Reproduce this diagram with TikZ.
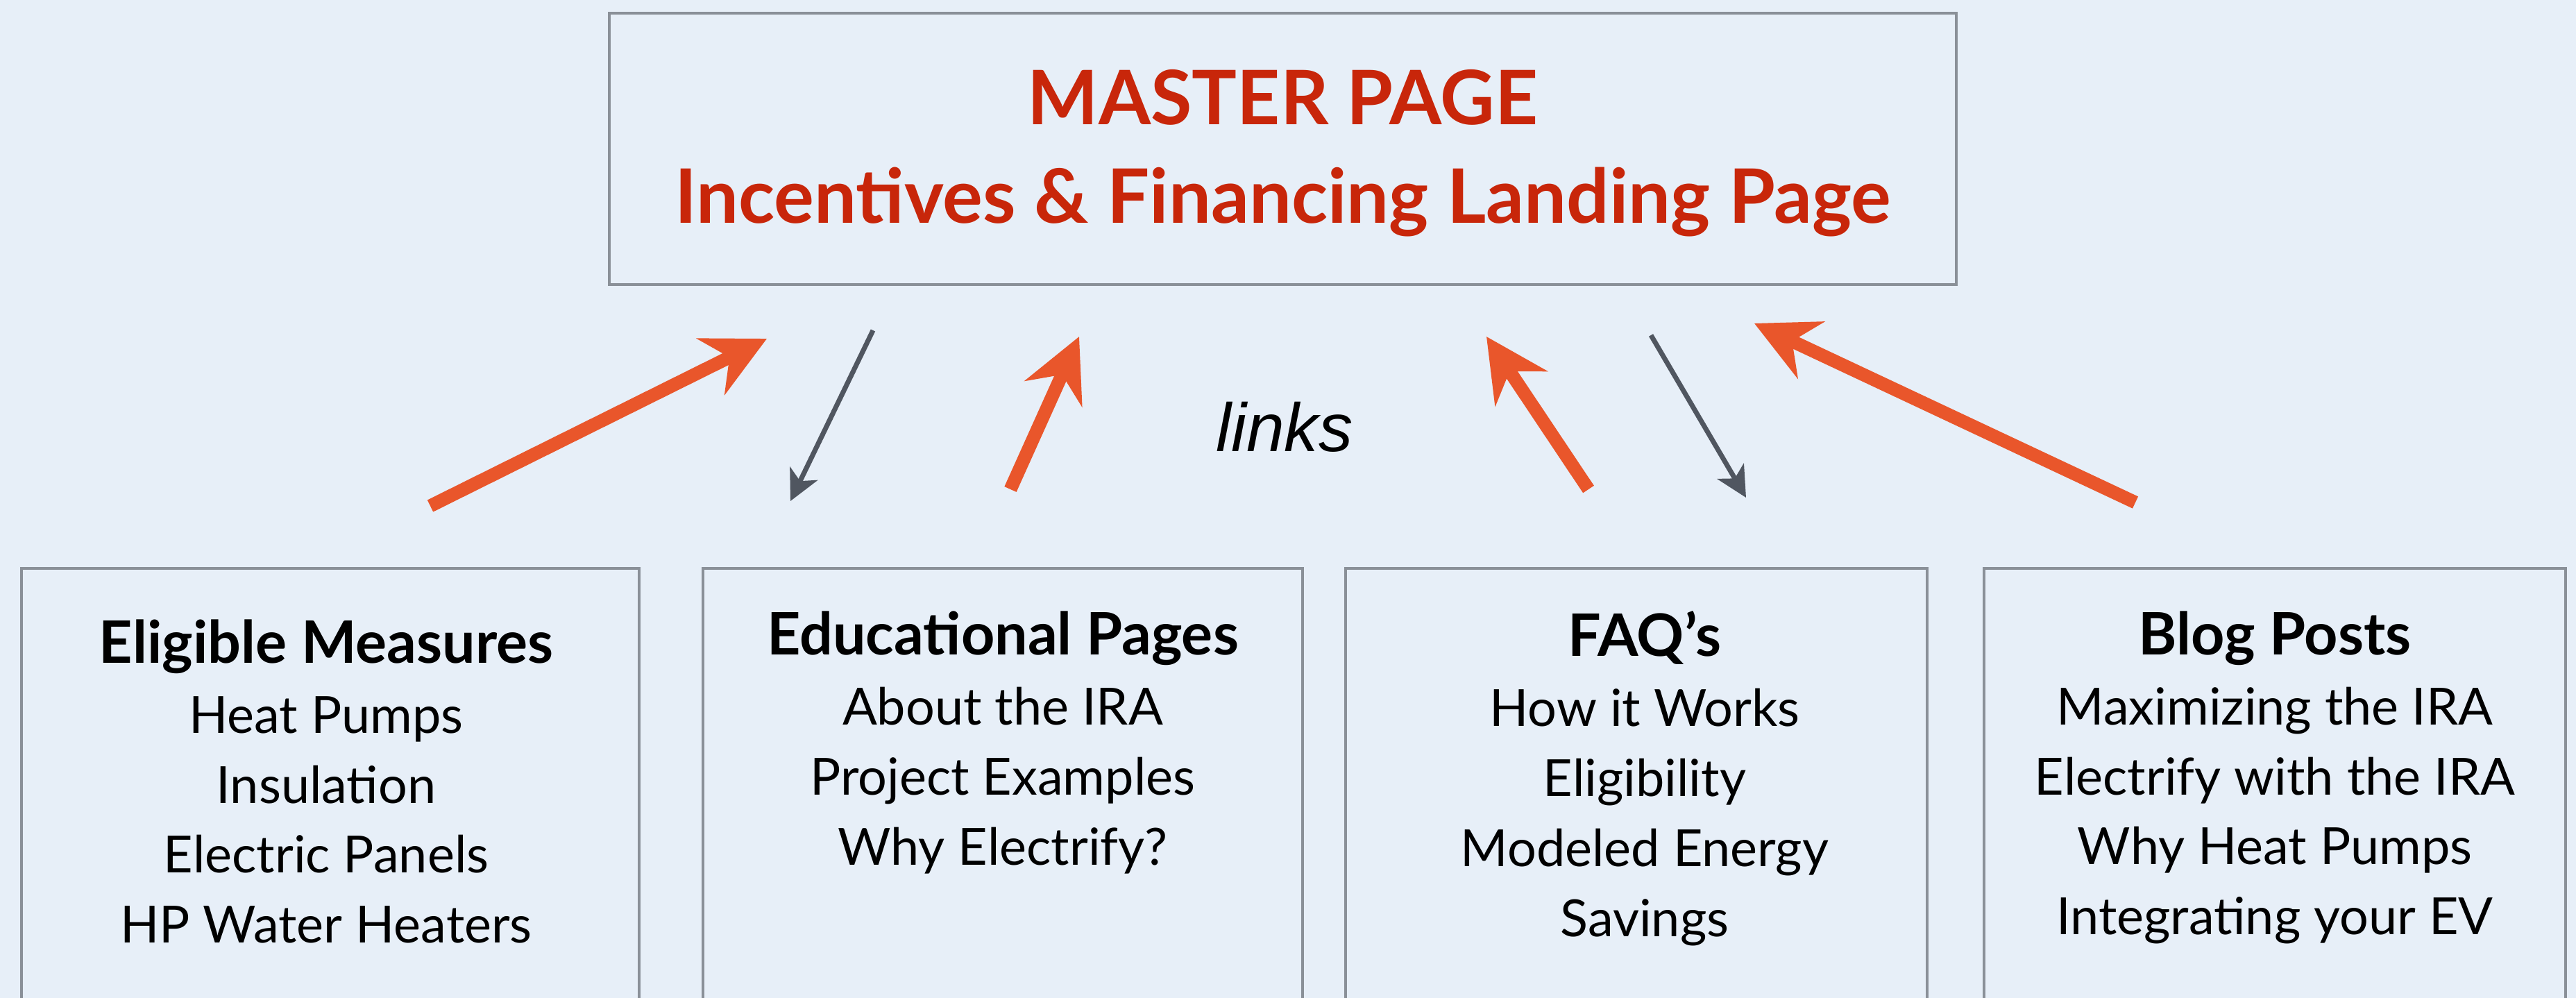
\documentclass[tikz,border=0pt]{standalone}
\usepackage{fontspec}
\setmainfont{Lato}
\newfontfamily\linksfont{Liberation Sans}
\usetikzlibrary{arrows.meta,positioning}

\definecolor{bgblue}{RGB}{231,239,248}
\definecolor{boxgray}{RGB}{138,144,152}
\definecolor{titlered}{RGB}{200,38,10}
\definecolor{linkorange}{RGB}{233,86,43}
\definecolor{linkgray}{RGB}{80,86,96}

\begin{document}
\begin{tikzpicture}[
   master/.style={draw=boxgray,line width=1.2pt,minimum width=19.41cm,minimum height=3.91cm,align=center,text=titlered,font=\fontsize{30.8}{40.5}\selectfont\bfseries},
   page/.style={draw=boxgray,line width=1.2pt,anchor=north,minimum height=8cm},
   pagetext/.style={align=center,inner sep=0pt,font=\fontsize{21}{28.7}\selectfont},
   up/.style={draw=linkorange,line width=5.4pt,-{Stealth[length=9mm,width=9mm,inset=3mm]}},
   down/.style={draw=linkgray,line width=2pt,-{Stealth[length=4.4mm,width=4.4mm,inset=1.2mm]}}
]
  \path[use as bounding box,fill=bgblue] (0,0) rectangle (37.12,-14.38);

  \node[master] (M) at (18.485,-2.145) {};
  \node[text=titlered,align=center,font=\fontsize{30.8}{40.5}\selectfont\bfseries] (M-t) at ([yshift=-0.06cm]M.center)
     {MASTER PAGE\\Incentives \& Financing Landing Page};

  % the four linked pages
  \node[page,minimum width=8.90cm] (EM) at (4.76,-8.17) {};
  \node[page,minimum width=8.64cm] (EP) at (14.45,-8.17) {};
  \node[page,minimum width=8.38cm] (FQ) at (23.58,-8.17) {};
  \node[page,minimum width=8.38cm] (BP) at (32.78,-8.17) {};

  \node[pagetext,below=0.75cm of EM.north,xshift=-0.06cm] (EM-t)
     {{\fontsize{24}{28.7}\selectfont\bfseries Eligible Measures}\\Heat Pumps\\Insulation\\Electric Panels\\HP Water Heaters};
  \node[pagetext,below=0.63cm of EP.north] (EP-t)
     {{\fontsize{24}{28.7}\selectfont\bfseries Educational Pages}\\About the IRA\\Project Examples\\Why Electrify?};
  \node[pagetext,below=0.63cm of FQ.north,xshift=0.12cm] (FQ-t)
     {{\fontsize{24}{28.7}\selectfont\bfseries FAQ’s}\\How it Works\\Eligibility\\Modeled Energy\\Savings};
  \node[pagetext,below=0.63cm of BP.north] (BP-t)
     {{\fontsize{24}{28.7}\selectfont\bfseries Blog Posts}\\Maximizing the IRA\\Electrify with the IRA\\Why Heat Pumps\\Integrating your EV};

  \node[font=\linksfont\itshape\fontsize{28}{34}\selectfont] (links) at (18.51,-6.15) {links};

  % arrow ends
  \foreach \Name/\Pos in {em-a/{6.20,-7.29},em-b/{11.05,-4.88},ep-a/{14.56,-7.05},ep-b/{15.55,-4.85},
                          fq-a/{22.89,-7.05},fq-b/{21.42,-4.85},bp-a/{30.77,-7.24},bp-b/{25.28,-4.66},
                          m-a/{12.58,-4.76},m-b/{11.39,-7.22},m-c/{23.79,-4.83},m-d/{25.16,-7.17}}
    \coordinate (\Name) at (\Pos);

  \foreach \From/\To in {em-a/em-b,ep-a/ep-b,fq-a/fq-b,bp-a/bp-b}
    \draw[up] (\From) -- (\To);
  \draw[down] (m-a) -- (m-b);
  \draw[down] (m-c) -- (m-d);
\end{tikzpicture}
\end{document}
